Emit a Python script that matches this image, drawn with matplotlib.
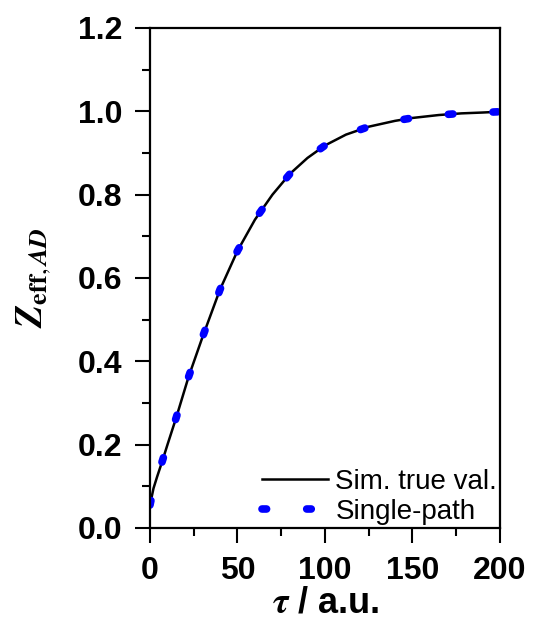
import matplotlib
matplotlib.use("Agg")
import matplotlib.pyplot as plt
from matplotlib.ticker import MultipleLocator

# values
tau = [0, 2, 4, 7, 10, 15, 22, 30, 40, 50, 60, 70, 80, 90, 100,
       112, 125, 140, 150, 165, 178, 190, 200]
z_true = [0.055, 0.095, 0.122, 0.160, 0.200, 0.265, 0.362, 0.458, 0.572,
          0.665, 0.740, 0.800, 0.850, 0.888, 0.918, 0.944, 0.963, 0.977,
          0.984, 0.991, 0.995, 0.997, 0.999]
z_single = z_true

plt.rcParams['font.family'] = ['Liberation Sans', 'DejaVu Sans']
plt.rcParams['mathtext.fontset'] = 'stix'

fig = plt.figure(figsize=(5.33, 6.21), dpi=100)
ax = fig.add_axes([0.2814, 0.1498, 0.6566, 0.8052])

ax.plot(tau, z_true, '-', color='black', lw=1.8, label="Sim. true val.")
ax.plot(tau, z_single, color='blue', lw=5.5, dashes=(0.6, 5.25),
        dash_capstyle='round', label="Single-path")

ax.set_xlim(0, 200)
ax.set_ylim(0, 1.2)
ax.xaxis.set_major_locator(MultipleLocator(50))
ax.xaxis.set_minor_locator(MultipleLocator(25))
ax.yaxis.set_major_locator(MultipleLocator(0.2))
ax.yaxis.set_minor_locator(MultipleLocator(0.1))
ax.yaxis.set_major_formatter(lambda v, p: f"{v:.1f}")

for s in ax.spines.values():
    s.set_linewidth(1.6)
ax.tick_params(which='major', direction='out', length=11, width=1.5,
               labelsize=23, pad=9)
ax.tick_params(which='minor', direction='out', length=6, width=1.5)
for lab in ax.get_xticklabels() + ax.get_yticklabels():
    lab.set_fontweight('bold')

ax.set_xlabel(r"$\mathbfit{\tau}$ / a.u.", fontsize=26, fontweight='bold',
              labelpad=0)
ax.set_ylabel(r"$\mathbfit{Z}_{\mathbf{eff},\mathbfit{AD}}$", fontsize=27,
              labelpad=18)

ax.legend(loc='lower right', frameon=False, fontsize=20, handlelength=2.4,
          handletextpad=0.25, borderaxespad=0.0, borderpad=0.1,
          labelspacing=0.15)

fig.savefig("out.png", dpi=100)
